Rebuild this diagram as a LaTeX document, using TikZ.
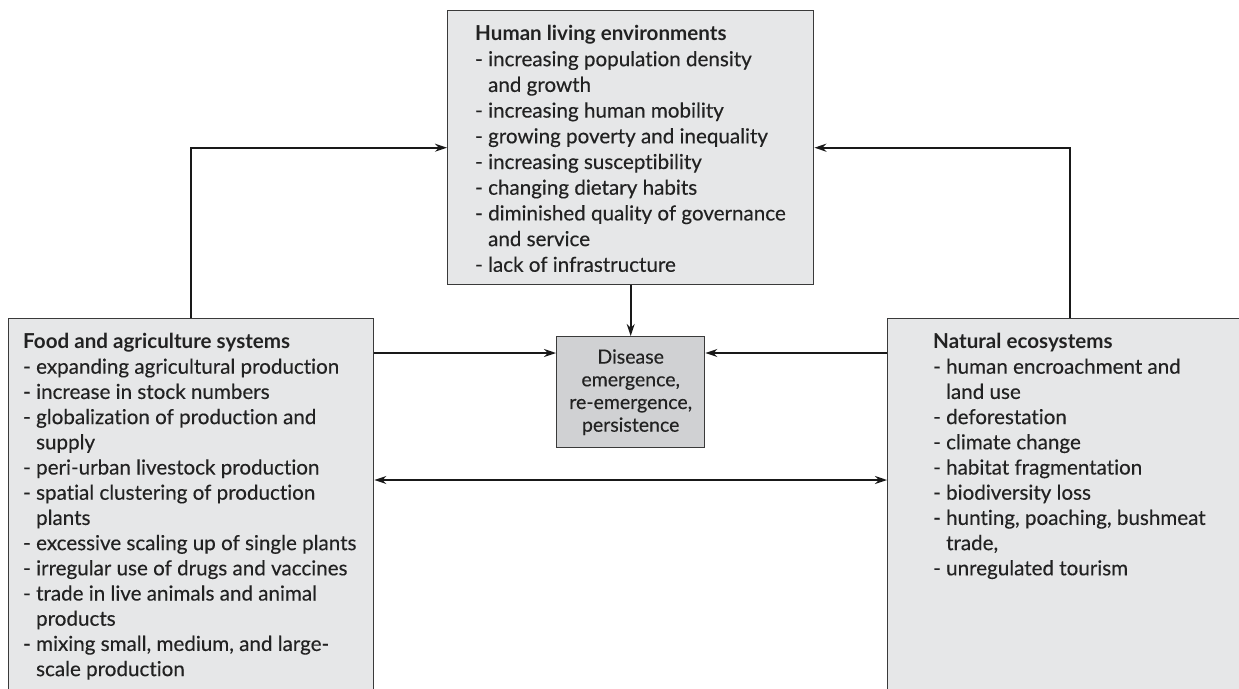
\documentclass[tikz,border=0pt]{standalone}
\usepackage{fontspec}
\setmainfont{Lato}[Ligatures={NoCommon}, UprightFeatures={FakeBold=0.3}]
\usetikzlibrary{arrows.meta}
\definecolor{boxfill}{HTML}{E6E7E8}
\definecolor{disfill}{HTML}{D0D1D3}
\definecolor{boxline}{HTML}{3A3A3A}
\definecolor{txtcol}{HTML}{222222}
\begin{document}
\begin{tikzpicture}[x=1pt,y=-1pt,
  box/.style={draw=boxline, line width=1.4pt, fill=boxfill, rectangle, inner sep=0pt, anchor=north west},
  txt/.style={anchor=north west, inner sep=0pt, align=left, text=txtcol, font=\fontsize{20.6}{25.2}\selectfont},
  arr/.style={line width=1.6pt, draw=black!90, -{Stealth[length=12pt,width=8pt]}},
  darr/.style={line width=1.6pt, draw=black!90, {Stealth[length=12pt,width=8pt]}-{Stealth[length=12pt,width=8pt]}}]
\useasboundingbox (0,0) rectangle (1239,688);
\clip (0,0) rectangle (1239,688);
% boxes
\node[box, minimum width=366pt, minimum height=274pt] (hle) at (447,10) {};
\node[box, minimum width=365pt, minimum height=420pt] (food) at (8,318) {};
\node[box, minimum width=365pt, minimum height=420pt] (nat) at (887,318) {};
\node[box, fill=disfill, minimum width=148pt, minimum height=111pt, align=center, text=txtcol,
      font=\fontsize{19.5}{22.7}\selectfont] (dis) at (556,336)
  {Disease\\emergence,\\re-emergence,\\persistence};
% texts
\node[txt, font=\fontsize{20.6}{25.7}\selectfont] (hletxt) at (475,25) {\textbf{Human living environments}\\
- increasing population density\\
\hphantom{- }and growth\\
- increasing human mobility\\
- growing poverty and inequality\\
- increasing susceptibility\\
- changing dietary habits\\
- diminished quality of governance\\
\hphantom{- }and service\\
- lack of infrastructure};
\node[txt] (foodtxt) at (23,333) {\textbf{Food and agriculture systems}\\
- expanding agricultural production\\
- increase in stock numbers\\
- globalization of production and\\
\hphantom{- }supply\\
- peri-urban livestock production\\
- spatial clustering of production\\
\hphantom{- }plants\\
- excessive scaling up of single plants\\
- irregular use of drugs and vaccines\\
- trade in live animals and animal\\
\hphantom{- }products\\
- mixing small, medium, and large-\\
\hphantom{- }scale production};
\node[txt] (nattxt) at (933,333) {\textbf{Natural ecosystems}\\
- human encroachment and\\
\hphantom{- }land use\\
- deforestation\\
- climate change\\
- habitat fragmentation\\
- biodiversity loss\\
- hunting, poaching, bushmeat\\
\hphantom{- }trade,\\
- unregulated tourism};
% connectors
\coordinate (ya) at (0,353);
\coordinate (yb) at (0,480);
\draw[arr] (food.north) |- (hle.west);
\draw[arr] (nat.north) |- (hle.east);
\draw[arr] (hle.south) -- (dis.north);
\draw[arr] (food.east |- ya) -- (dis.west |- ya);
\draw[arr] (nat.west |- ya) -- (dis.east |- ya);
\draw[darr] (food.east |- yb) -- (nat.west |- yb);
\end{tikzpicture}
\end{document}
